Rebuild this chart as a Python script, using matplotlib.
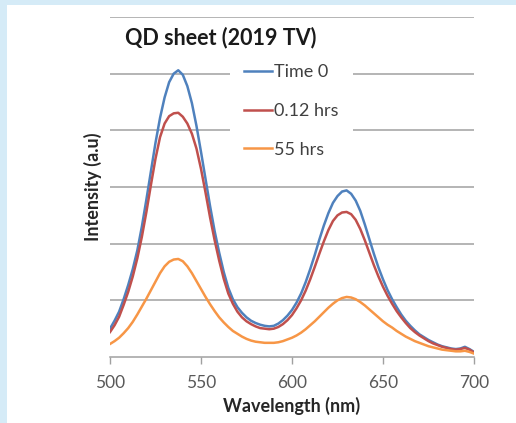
import matplotlib
matplotlib.use("Agg")
import matplotlib.pyplot as plt
from matplotlib.patches import Rectangle
import numpy as np

plt.rcParams['font.family'] = ['Lato', 'DejaVu Sans']

# Emission spectra of the QD sheet, sampled every 2.5 nm from 500 to 700 nm
wavelength = np.arange(500, 700.1, 2.5)

time_0 = [0.50, 0.64, 0.80, 1.02, 1.27, 1.55, 1.88, 2.30, 2.78, 3.28,
          3.78, 4.22, 4.58, 4.85, 5.00, 5.06, 4.98, 4.78, 4.48, 4.08,
          3.62, 3.14, 2.66, 2.22, 1.84, 1.50, 1.22, 1.02, 0.88, 0.78,
          0.70, 0.64, 0.60, 0.57, 0.55, 0.54, 0.55, 0.59, 0.65, 0.73,
          0.83, 0.96, 1.12, 1.32, 1.55, 1.80, 2.07, 2.32, 2.54, 2.72,
          2.84, 2.92, 2.94, 2.88, 2.76, 2.58, 2.34, 2.08, 1.82, 1.58,
          1.37, 1.18, 1.02, 0.88, 0.75, 0.64, 0.55, 0.47, 0.40, 0.35,
          0.30, 0.26, 0.22, 0.19, 0.17, 0.15, 0.14, 0.15, 0.18, 0.14,
          0.09]

hrs_0_12 = [0.44, 0.56, 0.71, 0.92, 1.15, 1.42, 1.74, 2.12, 2.56, 3.04,
            3.50, 3.88, 4.12, 4.25, 4.30, 4.31, 4.24, 4.12, 3.94, 3.68,
            3.32, 2.90, 2.46, 2.06, 1.70, 1.38, 1.12, 0.94, 0.80, 0.70,
            0.63, 0.58, 0.54, 0.51, 0.50, 0.49, 0.50, 0.53, 0.58, 0.65,
            0.74, 0.86, 1.00, 1.17, 1.37, 1.59, 1.82, 2.04, 2.24, 2.40,
            2.50, 2.55, 2.56, 2.52, 2.42, 2.26, 2.06, 1.84, 1.62, 1.42,
            1.24, 1.08, 0.94, 0.81, 0.70, 0.60, 0.51, 0.44, 0.38, 0.33,
            0.28, 0.24, 0.21, 0.18, 0.16, 0.14, 0.13, 0.14, 0.16, 0.13,
            0.08]

hrs_55 = [0.23, 0.28, 0.34, 0.42, 0.51, 0.62, 0.75, 0.89, 1.03, 1.18,
          1.33, 1.48, 1.60, 1.68, 1.72, 1.73, 1.69, 1.60, 1.48, 1.34,
          1.20, 1.06, 0.93, 0.81, 0.70, 0.61, 0.53, 0.46, 0.41, 0.36,
          0.32, 0.29, 0.27, 0.26, 0.25, 0.25, 0.25, 0.26, 0.28, 0.31,
          0.34, 0.38, 0.43, 0.49, 0.56, 0.63, 0.71, 0.79, 0.87, 0.94,
          1.00, 1.04, 1.06, 1.05, 1.02, 0.97, 0.91, 0.84, 0.77, 0.70,
          0.63, 0.57, 0.52, 0.46, 0.41, 0.36, 0.32, 0.28, 0.25, 0.22,
          0.19, 0.17, 0.15, 0.13, 0.12, 0.11, 0.10, 0.10, 0.11, 0.09,
          0.06]

series_labels = ['Time 0', '0.12 hrs', '55 hrs']
series_colors = ['#4f81bd', '#c0504d', '#f79646']
x_ticks = [500, 550, 600, 650, 700]

W, H = 516, 423
fig = plt.figure(figsize=(W / 100, H / 100), dpi=100, facecolor='#d5ebf7')
fig.patches.append(Rectangle((7 / W, 0), 1, (H - 5) / H, transform=fig.transFigure,
                             facecolor='white', edgecolor='none', zorder=-5))

ax = fig.add_axes([110 / W, (H - 357) / H, 364 / W, 340 / H])
ax.set_facecolor('none')
ax.set_zorder(1)

for ys, lab, col in zip([time_0, hrs_0_12, hrs_55], series_labels, series_colors):
    ax.plot(wavelength, ys, color=col, lw=1.8, label=lab, zorder=3,
            solid_joinstyle='round')

ax.set_xlim(500, 700)
ax.set_ylim(0, 6)
ax.set_xticks(x_ticks)
ax.set_yticks(np.arange(1, 7))
ax.set_yticklabels([])
ax.tick_params(axis='y', length=0)
ax.tick_params(axis='x', length=5, width=1, color='#a0a0a0', labelcolor='#595959',
               labelsize=12.5, pad=8)
ax.grid(axis='y', color='#a0a0a0', lw=1.1, zorder=1)
for s in ['top', 'right', 'left']:
    ax.spines[s].set_visible(False)
ax.spines['bottom'].set_color('#a0a0a0')
ax.spines['bottom'].set_linewidth(1.1)

ax.set_xlabel('Wavelength (nm)', fontsize=13, fontweight='bold', color='#262626', labelpad=4)
ax.set_ylabel('Intensity (a.u)', fontsize=13, fontweight='bold', color='#262626', labelpad=2)

fig.text(125 / W, 1 - 38 / H, 'QD sheet (2019 TV)', fontsize=15.5, fontweight='bold',
         color='#1a1a1a', ha='left', va='center', zorder=5)

leg = ax.legend(loc='upper left', bbox_to_anchor=(230 / W, 1 - 50 / H),
                bbox_transform=fig.transFigure, frameon=True, facecolor='white',
                edgecolor='none', framealpha=1, fancybox=False, fontsize=13,
                handlelength=1.5, handletextpad=0.15, labelspacing=1.25,
                borderpad=0.8, borderaxespad=0)
for t in leg.get_texts():
    t.set_color('#404040')
leg.set_zorder(2)

fig.savefig('out.png', dpi=100, facecolor=fig.get_facecolor())
